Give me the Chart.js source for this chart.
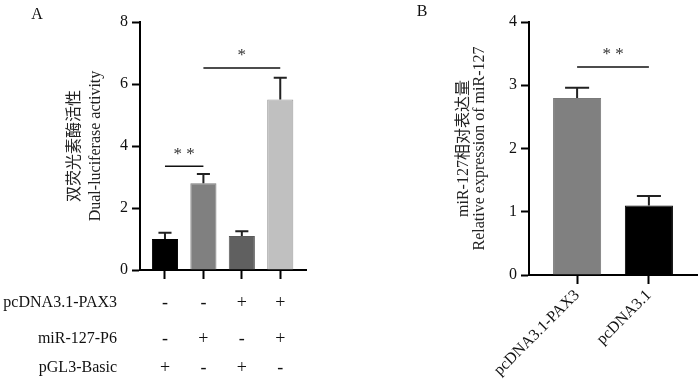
<!DOCTYPE html>
<html>
<head>
<meta charset="utf-8">
<script src="https://cdn.jsdelivr.net/npm/chart.js@4"></script>
<style>
  body { margin: 0; background: #fff; }
  .panel { position: absolute; top: 0; width: 350px; height: 386px; }
</style>
</head>
<body>
<div class="panel" style="left:0"><canvas id="chartA" width="350" height="386"></canvas></div>
<div class="panel" style="left:350px"><canvas id="chartB" width="350" height="386"></canvas></div>
<script>
// panel A: dual-luciferase
const groupsA = ["1", "2", "3", "4"];
const meanA = [1.0, 2.8, 1.1, 5.5];
const errA = [0.2, 0.3, 0.15, 0.7];
const colorsA = ["#000000", "#808080", "#606060", "#c0c0c0"];
const rowLabelsA = ["pcDNA3.1-PAX3", "miR-127-P6", "pGL3-Basic"];
const rowPAX3 = ["-", "-", "+", "+"];
const rowMiR = ["-", "+", "-", "+"];
const rowPGL3 = ["+", "-", "+", "-"];

// panel B: miR-127 expression
const groupsB = ["pcDNA3.1-PAX3", "pcDNA3.1"];
const meanB = [2.8, 1.1];
const errB = [0.16, 0.15];
const colorsB = ["#808080", "#000000"];

const FONT = "'Liberation Serif', 'Noto Sans CJK SC', serif";

const errorBars = {
  id: "errorBars",
  afterDatasetsDraw(chart, args, opts) {
    const ctx = chart.ctx;
    const y = chart.scales.y;
    chart.getDatasetMeta(0).data.forEach((bar, i) => {
      const top = y.getPixelForValue(opts.mean[i] + opts.err[i]);
      const half = bar.width / 4;
      ctx.save();
      ctx.strokeStyle = "#222";
      ctx.lineWidth = 2;
      ctx.beginPath();
      ctx.moveTo(bar.x, bar.y);
      ctx.lineTo(bar.x, top);
      ctx.moveTo(bar.x - half, top);
      ctx.lineTo(bar.x + half, top);
      ctx.stroke();
      ctx.restore();
    });
  }
};

const sigMarks = {
  id: "sigMarks",
  afterDraw(chart, args, opts) {
    const ctx = chart.ctx;
    const x = chart.scales.x, y = chart.scales.y;
    opts.pairs.forEach(p => {
      const x1 = x.getPixelForValue(p.from + 1);
      const x2 = x.getPixelForValue(p.to + 1);
      const yy = y.getPixelForValue(p.level);
      ctx.save();
      ctx.strokeStyle = "#111";
      ctx.lineWidth = 1.5;
      ctx.beginPath();
      ctx.moveTo(x1, yy);
      ctx.lineTo(x2, yy);
      ctx.stroke();
      ctx.fillStyle = "#333";
      ctx.font = "17px " + FONT;
      ctx.textAlign = "center";
      ctx.textBaseline = "middle";
      ctx.fillText(p.text, (x1 + x2) / 2, yy - 12);
      ctx.restore();
    });
  }
};

const extraText = {
  id: "extraText",
  afterDraw(chart, args, opts) {
    const ctx = chart.ctx;
    ctx.save();
    ctx.fillStyle = "#111";
    ctx.font = "16px " + FONT;
    ctx.textBaseline = "middle";
    ctx.textAlign = "center";
    ctx.fillText(opts.letter[0], opts.letter[1], opts.letter[2]);
    if (opts.rows) {
      const x = chart.scales.x;
      opts.rows.forEach((row, r) => {
        const yy = opts.rowY[r];
        ctx.font = "16px " + FONT;
        ctx.textAlign = "right";
        ctx.fillText(rowLabelsA[r], 117, yy);
        ctx.font = "18px " + FONT;
        ctx.textAlign = "center";
        row.forEach((s, i) => ctx.fillText(s, x.getPixelForValue(i + 1), yy));
      });
    }
    ctx.restore();
  }
};

function makeChart(id, groups, mean, err, colors, cfg) {
  return new Chart(document.getElementById(id).getContext("2d"), {
    type: "bar",
    data: {
      datasets: [{
        data: mean.map((v, i) => ({ x: i + 1, y: v })),
        backgroundColor: colors,
        borderColor: cfg.borders,
        borderWidth: 1,
        barPercentage: cfg.barPct,
        categoryPercentage: 1.0,
      }],
    },
    options: {
      responsive: false,
      animation: false,
      layout: { padding: { left: 0, top: 22, right: cfg.padRight, bottom: 0 } },
      plugins: {
        legend: { display: false },
        tooltip: { enabled: false },
        errorBars: { mean: mean, err: err },
        sigMarks: { pairs: cfg.pairs },
        extraText: cfg.extra,
      },
      scales: {
        x: {
          type: "linear",
          offset: false,
          min: cfg.xMin,
          max: cfg.xMax,
          afterBuildTicks: s => { s.ticks = groups.map((_, i) => ({ value: i + 1 })); },
          afterFit: s => { s.height = cfg.xHeight; },
          ticks: {
            display: cfg.xLabels,
            minRotation: 45,
            maxRotation: 45,
            padding: 2,
            color: "#111",
            font: { family: FONT, size: 16 },
            callback: v => groups[Math.round(v) - 1],
          },
          grid: { offset: false, drawOnChartArea: false, drawTicks: true, tickLength: 9, tickColor: "#000", tickWidth: 2 },
          border: { color: "#000", width: 2 },
        },
        y: {
          min: 0,
          max: cfg.yMax,
          afterFit: s => { s.width = cfg.yWidth; },
          ticks: { stepSize: cfg.yStep, padding: 4, color: "#111", font: { family: FONT, size: 16 } },
          grid: { drawOnChartArea: false, drawTicks: true, tickLength: 8, tickColor: "#000", tickWidth: 2 },
          border: { color: "#000", width: 2 },
          title: {
            display: true,
            text: cfg.title,
            color: "#222",
            font: { family: FONT, size: 16, lineHeight: cfg.titleLH },
            padding: { top: cfg.titlePad, bottom: 0 },
          },
        },
      },
    },
    plugins: [errorBars, sigMarks, extraText],
  });
}

makeChart("chartA", groupsA, meanA, errA, colorsA, {
  borders: ["#000", "#7a7a7a", "#5a5a5a", "#9c9c9c"],
  barPct: 0.68,
  padRight: 44,
  xMin: 0.35, xMax: 4.67,
  xHeight: 116,
  xLabels: false,
  yMax: 8, yStep: 2, yWidth: 140,
  title: ["双荧光素酶活性", "Dual-luciferase activity"],
  titleLH: "21px",
  titlePad: 64,
  pairs: [
    { from: 0, to: 1, level: 3.35, text: "* *" },
    { from: 1, to: 3, level: 6.52, text: "*" },
  ],
  extra: { letter: ["A", 37, 15], rows: [rowPAX3, rowMiR, rowPGL3], rowY: [303, 339, 368] },
});

makeChart("chartB", groupsB, meanB, errB, colorsB, {
  borders: ["#7a7a7a", "#000"],
  barPct: 0.67,
  padRight: 3,
  xMin: 0.33, xMax: 2.67,
  xHeight: 111,
  xLabels: true,
  yMax: 4, yStep: 1, yWidth: 179,
  title: ["miR-127相对表达量", "Relative expression of miR-127"],
  titleLH: "16px",
  titlePad: 106,
  pairs: [{ from: 0, to: 1, level: 3.29, text: "* *" }],
  extra: { letter: ["B", 72, 12] },
});
</script>
</body>
</html>
